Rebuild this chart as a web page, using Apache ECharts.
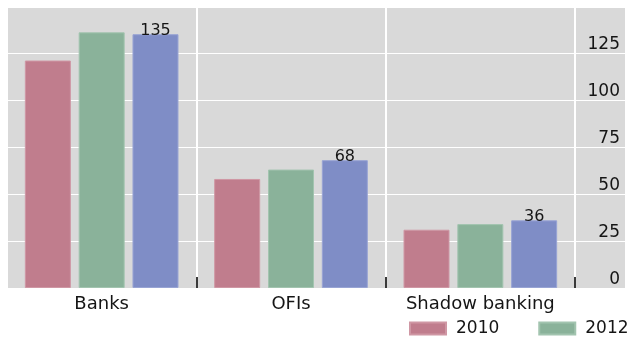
<!DOCTYPE html>
<html>
<head>
<meta charset="utf-8">
<script src="https://cdn.jsdelivr.net/npm/echarts@6/dist/echarts.min.js"></script>
<style>
  html, body { margin: 0; padding: 0; background: #fff; }
  #chart { width: 627px; height: 340px; }
</style>
</head>
<body>
<div id="chart"></div>
<script>
// Sector groups along the bottom
const categories = ['Banks', 'OFIs', 'Shadow banking'];

// Series values per group
const seriesNames = ['2010', '2012', '2014'];
const values2010 = [121, 58, 31];
const values2012 = [136, 63, 34];
const valuesLatest = [135, 68, 36];

// Right-hand scale
const yMin = 0;
const yMax = 150;
const yStep = 25;

const colors = ['#c07d8d', '#8ab29a', '#7f8dc6'];
const borders = ['#cf97a4', '#a2c4af', '#98a4d4'];
const FONT = 'DejaVu Sans';
const INK = '#151515';

const chart = echarts.init(document.getElementById('chart'), null, { renderer: 'canvas' });

const allValues = [values2010, values2012, valuesLatest];

const barSeries = allValues.map((vals, i) => ({
  name: seriesNames[i],
  type: 'bar',
  xAxisIndex: 0,
  yAxisIndex: 0,
  data: vals,
  barWidth: 46,
  barGap: '17%',
  itemStyle: { color: colors[i], borderColor: borders[i], borderWidth: 1 },
  label: i === 2 ? {
    show: true,
    position: 'top',
    distance: -5,
    fontFamily: FONT,
    fontSize: 16,
    color: INK
  } : { show: false }
}));

chart.setOption({
  animation: false,
  graphic: [{
    type: 'rect',
    z: -10,
    silent: true,
    shape: { x: 7, y: 8, width: 618, height: 280 },
    style: { fill: '#d9d9d9' }
  }],
  grid: [
    { left: 7, right: 52, top: 6, bottom: 52 },
    { left: 575, right: 2, top: 6, bottom: 52 }
  ],
  legend: {
    data: ['2010', '2012'],
    left: 409,
    top: 320,
    width: 260,
    padding: 0,
    itemWidth: 36,
    itemHeight: 12,
    itemGap: 39,
    icon: 'rect',
    textStyle: { fontFamily: FONT, fontSize: 17, color: INK, padding: [0, 0, 0, 5] }
  },
  xAxis: [
    {
      gridIndex: 0,
      type: 'category',
      data: categories,
      axisLine: { show: false },
      axisTick: {
        show: true,
        inside: true,
        length: 11,
        interval: (idx) => idx > 0,
        lineStyle: { color: '#3a3a3a', width: 2 }
      },
      splitLine: { show: true, interval: 0, lineStyle: { color: '#ffffff', width: 2 } },
      axisLabel: { interval: 0, fontFamily: FONT, fontSize: 18, color: INK, margin: 7 }
    },
    {
      gridIndex: 1,
      type: 'category',
      data: [''],
      show: false
    }
  ],
  yAxis: [
    {
      gridIndex: 0,
      type: 'value',
      min: yMin,
      max: yMax,
      interval: yStep,
      axisLine: { show: false },
      axisTick: { show: false },
      axisLabel: { show: false },
      splitLine: { show: true, lineStyle: { color: '#ffffff', width: 1 } }
    },
    {
      gridIndex: 1,
      type: 'value',
      min: yMin,
      max: yMax,
      interval: yStep,
      axisLine: { show: false },
      axisTick: { show: false },
      splitLine: { show: true, lineStyle: { color: '#ffffff', width: 1 } },
      axisLabel: {
        inside: true,
        margin: 45,
        align: 'right',
        verticalAlign: 'bottom',
        showMaxLabel: false,
        fontFamily: FONT,
        fontSize: 17,
        color: INK
      }
    }
  ],
  series: barSeries
});
</script>
</body>
</html>
